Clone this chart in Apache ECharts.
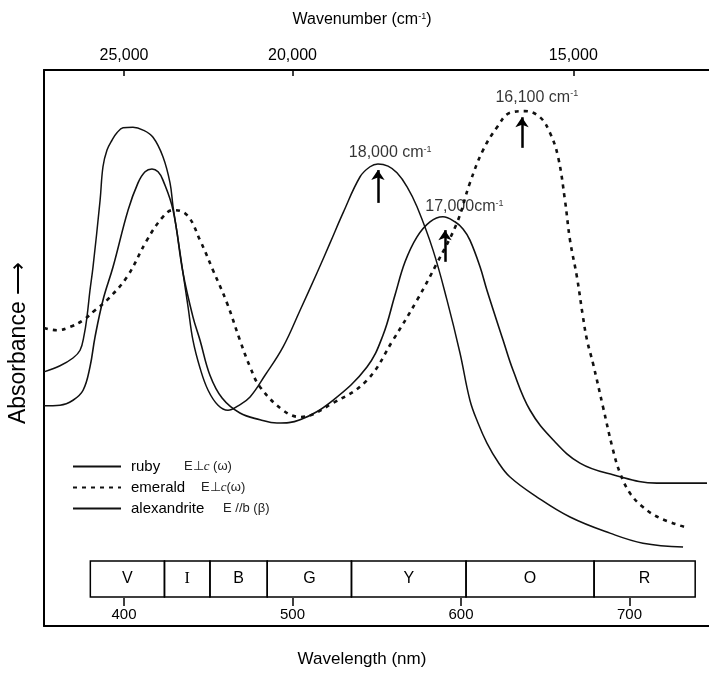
<!DOCTYPE html>
<html>
<head>
<meta charset="utf-8">
<script src="https://cdn.jsdelivr.net/npm/echarts@6/dist/echarts.min.js"></script>
<style>
  html, body { margin: 0; padding: 0; background: #fff; }
  #chart { width: 709px; height: 674px; }
</style>
</head>
<body>
<div id="chart"></div>
<script>
// wavelength (nm) and absorbance (arbitrary units)
var rubyNm = [352.5, 362.0, 369.7, 373.9, 376.3, 378.0, 379.8, 381.6, 385.8, 387.5, 389.9, 392.9, 395.8, 399.4, 405.3, 411.3, 417.2, 423.1, 427.3, 429.1, 431.5, 435.0, 438.0, 440.9, 445.1, 449.9, 455.8, 461.7, 467.7, 474.8, 483.7, 494.4, 504.5, 514.5, 522.3, 530.0, 540.1, 546.0, 550.7, 556.7, 562.0, 568.0, 573.9, 583.4, 591.7, 599.4, 605.3, 610.1, 615.4, 622.0, 629.1, 645.1, 664.7, 688.4, 708.0, 731.8];
var rubyAbs = [45.7, 46.8, 48.2, 49.6, 52.3, 55.6, 60.4, 64.6, 76.6, 82.6, 85.6, 87.4, 88.7, 89.6, 89.7, 89.2, 87.9, 84.4, 79.7, 75.4, 70.7, 63.5, 57.4, 51.4, 46.4, 42.4, 39.7, 38.8, 39.6, 41.2, 45.1, 50.2, 56.8, 63.5, 68.9, 74.3, 80.8, 82.6, 83.1, 82.7, 81.5, 79.0, 75.4, 67.6, 58.6, 49.1, 40.6, 36.5, 32.9, 29.5, 26.8, 23.2, 19.6, 16.7, 14.9, 14.2];

var emeraldNm = [352.5, 360.2, 368.0, 375.7, 382.8, 389.9, 401.8, 413.6, 423.1, 429.1, 437.4, 445.1, 452.8, 461.1, 468.8, 474.8, 480.7, 494.4, 504.5, 524.0, 544.2, 559.6, 573.9, 585.8, 597.6, 605.3, 613.1, 621.4, 629.1, 638.0, 646.9, 652.8, 657.6, 661.7, 664.7, 668.8, 672.4, 674.8, 678.3, 684.3, 690.2, 694.4, 700.3, 708.0, 718.1, 732.9];
var emeraldAbs = [53.6, 53.2, 53.8, 55.0, 56.8, 58.6, 62.8, 69.4, 73.6, 74.8, 73.9, 69.4, 64.0, 58.1, 51.4, 46.6, 43.0, 38.8, 37.6, 40.1, 44.2, 51.4, 58.6, 65.3, 72.5, 79.7, 85.6, 89.7, 92.3, 92.6, 91.5, 88.7, 84.4, 76.6, 69.4, 62.8, 55.6, 51.4, 47.3, 39.4, 31.7, 27.5, 23.9, 21.4, 19.4, 17.8];

var alexNm = [352.5, 362.0, 369.7, 375.7, 379.8, 382.8, 387.5, 393.5, 402.4, 408.3, 412.5, 416.6, 420.2, 423.1, 429.1, 435.0, 440.9, 445.1, 451.0, 458.2, 468.8, 480.7, 490.8, 504.5, 524.0, 544.2, 553.7, 560.8, 566.8, 573.9, 581.6, 589.3, 596.4, 601.2, 605.3, 611.3, 615.4, 625.0, 630.9, 641.0, 654.6, 670.6, 690.2, 716.3, 746.0];
var alexAbs = [39.6, 39.7, 40.6, 42.4, 46.6, 52.0, 58.6, 64.6, 74.8, 79.7, 81.7, 82.2, 81.7, 80.2, 74.8, 63.5, 55.6, 51.4, 45.1, 41.0, 38.3, 37.1, 36.5, 37.1, 40.6, 46.6, 52.3, 59.5, 65.5, 70.0, 72.7, 73.6, 72.7, 71.4, 69.4, 64.6, 60.4, 51.4, 46.0, 38.8, 33.5, 29.3, 27.2, 25.7, 25.7];

// colour bands under the curves
var bandNames = ['V', 'I', 'B', 'G', 'Y', 'O', 'R'];
var bandEdges = [380, 424, 451, 485, 535, 603, 679, 739];

// axis ticks
var wavelengthTicks = [400, 500, 600, 700];
var wavenumberTicks = [25000, 20000, 15000];

// peak annotations
var peakText = ['18,000 cm', '17,000cm', '16,100 cm'];
var arrowNm = [550.7, 590.5, 636.2];
var arrowFrom = [76.1, 65.5, 86.0];
var arrowTo = [82.0, 71.2, 91.5];
var peakTextNm = [558.0, 602.0, 645.0];
var peakTextAbs = [85.1, 75.4, 95.1];

var legendText = {
  ruby: '{r|ruby}{e|E\u22a5}{i|c}{e| (\u03c9)}',
  emerald: '{m|emerald}{e|E\u22a5}{i|c}{e|(\u03c9)}',
  alexandrite: '{a|alexandrite}{e|E //b (\u03b2)}'
};

function pairs(xs, ys) {
  return xs.map(function (x, i) { return [x, ys[i]]; });
}

var FONT = '"Liberation Sans", Arial, sans-serif';
var xMin = 352.5, xMax = 747.2;

var myChart = echarts.init(document.getElementById('chart'));

var bandData = bandNames.map(function (n, i) {
  var lab = { show: true, position: 'inside', color: '#000', fontSize: 16, fontFamily: FONT };
  if (n === 'I') lab.fontFamily = '"Liberation Serif", serif';
  return [
    { name: n, xAxis: bandEdges[i], yAxis: 5.2, label: lab },
    { xAxis: bandEdges[i + 1], yAxis: 11.7 }
  ];
});

var arrowData = arrowNm.map(function (x, i) {
  return [{ coord: [x, arrowFrom[i]] }, { coord: [x, arrowTo[i]] }];
});

var option = {
  animation: false,
  backgroundColor: '#fff',
  textStyle: { fontFamily: FONT },
  grid: { left: 44, right: 0, top: 70, bottom: 48, containLabel: false, outerBoundsMode: 'none' },
  legend: {
    data: ['ruby', 'emerald', 'alexandrite'],
    orient: 'vertical',
    left: 72,
    top: 459,
    padding: 0,
    itemWidth: 48,
    itemHeight: 12,
    itemGap: 6,
    itemStyle: { opacity: 0 },
    formatter: function (name) { return legendText[name]; },
    textStyle: {
      color: '#000',
      rich: {
        r: { fontSize: 15, width: 53, color: '#000', fontFamily: FONT, padding: [0, 0, 0, 5] },
        m: { fontSize: 15, width: 70, color: '#000', fontFamily: FONT, padding: [0, 0, 0, 5] },
        a: { fontSize: 15, width: 92, color: '#000', fontFamily: FONT, padding: [0, 0, 0, 5] },
        e: { fontSize: 13, color: '#222', fontFamily: FONT },
        i: { fontSize: 13, color: '#222', fontStyle: 'italic', fontFamily: '"Liberation Serif", serif' }
      }
    }
  },
  xAxis: [
    {
      type: 'value', position: 'bottom', min: xMin, max: xMax,
      axisLine: { show: true, lineStyle: { color: '#000', width: 2 } },
      axisTick: { show: false }, axisLabel: { show: false }, splitLine: { show: false },
      name: 'Wavelength (nm)', nameLocation: 'middle', nameGap: 25,
      nameTextStyle: { fontSize: 17, color: '#000', padding: [0, 29, 0, 0] }
    },
    {
      type: 'value', position: 'bottom', offset: -28, min: xMin, max: xMax,
      axisLine: { show: false },
      axisTick: { show: true, length: 8, customValues: wavelengthTicks, lineStyle: { color: '#000', width: 1.5 } },
      axisLabel: { show: true, customValues: wavelengthTicks, margin: 9, fontSize: 15, color: '#000' },
      splitLine: { show: false }
    },
    {
      type: 'value', position: 'top', min: xMin, max: xMax,
      axisLine: { show: true, lineStyle: { color: '#000', width: 2 } },
      axisTick: {
        show: true, inside: true, length: 6,
        customValues: wavenumberTicks.map(function (k) { return 1e7 / k; }),
        lineStyle: { color: '#000', width: 1.5 }
      },
      axisLabel: {
        show: true, margin: 6, fontSize: 16, color: '#000',
        customValues: wavenumberTicks.map(function (k) { return 1e7 / k; }),
        formatter: function (v) { return Math.round(1e7 / v).toLocaleString('en-US'); }
      },
      splitLine: { show: false },
      name: '{t|Wavenumber (cm}{s|-1}{t|)}', nameLocation: 'middle', nameGap: 42,
      nameTextStyle: {
        padding: [0, 29, 0, 0],
        rich: {
          t: { fontSize: 16, color: '#000', fontFamily: FONT },
          s: { fontSize: 9, color: '#000', verticalAlign: 'top', fontFamily: FONT }
        }
      }
    }
  ],
  yAxis: {
    type: 'value', min: 0, max: 100,
    axisLine: { show: true, lineStyle: { color: '#000', width: 2 } },
    axisTick: { show: false }, axisLabel: { show: false }, splitLine: { show: false },
    name: 'Absorbance \u27f6', nameLocation: 'middle', nameGap: 14,
    nameTextStyle: { fontSize: 23, color: '#000', padding: [0, 0, 0, 10] }
  },
  series: [
    {
      name: 'ruby', type: 'line', data: pairs(rubyNm, rubyAbs),
      symbol: 'none', smooth: 0.4,
      lineStyle: { color: '#111', width: 1.5 }, itemStyle: { color: '#111' }
    },
    {
      name: 'emerald', type: 'line', data: pairs(emeraldNm, emeraldAbs),
      symbol: 'none', smooth: 0.4,
      lineStyle: { color: '#111', width: 2.6, type: [4, 5] }, itemStyle: { color: '#111' }
    },
    {
      name: 'alexandrite', type: 'line', data: pairs(alexNm, alexAbs),
      symbol: 'none', smooth: 0.4,
      lineStyle: { color: '#111', width: 1.6 }, itemStyle: { color: '#111' }
    },
    {
      name: 'notes', type: 'line', data: [], silent: true,
      markArea: {
        silent: true,
        itemStyle: { color: 'rgba(0,0,0,0)', borderColor: '#000', borderWidth: 1.5 },
        data: bandData
      },
      markLine: {
        silent: true,
        symbol: ['none', 'arrow'],
        symbolSize: 10,
        label: { show: false },
        lineStyle: { color: '#000', width: 2.5, type: 'solid' },
        data: arrowData
      }
    },
    {
      name: 'peaks', type: 'scatter', silent: true,
      symbolSize: 1, itemStyle: { color: 'rgba(0,0,0,0)' },
      data: pairs(peakTextNm, peakTextAbs),
      label: {
        show: true, position: 'inside',
        formatter: function (p) { return '{t|' + peakText[p.dataIndex] + '}{s|-1}'; },
        rich: {
          t: { fontSize: 16, color: '#000', fontFamily: FONT },
          s: { fontSize: 9, color: '#000', verticalAlign: 'top', fontFamily: FONT }
        }
      }
    }
  ]
};

myChart.setOption(option);
</script>
</body>
</html>
